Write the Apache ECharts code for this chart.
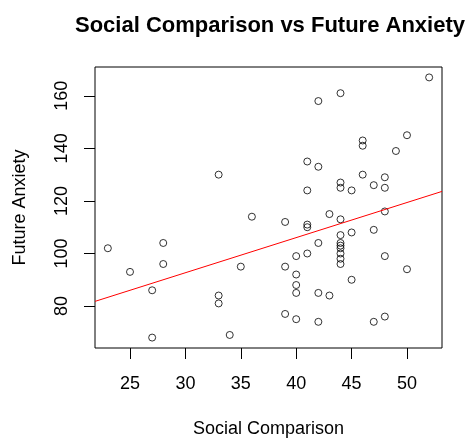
<!DOCTYPE html>
<html>
<head>
<meta charset="utf-8">
<script src="https://cdn.jsdelivr.net/npm/echarts@6/dist/echarts.min.js"></script>
<style>html,body{margin:0;padding:0;background:#fff;}#c{width:468px;height:443px;}</style>
</head>
<body>
<div id="c"></div>
<script>
const socialComparison = [33,52,44,42,46,46,50,49,41,42,46,48,44,44,47,48,41,45,
  23,28,28,25,27,27,36,35,33,33,34,
  48,43,44,39,41,41,44,45,47,42,44,44,44,44,44,44,
  40,41,39,48,40,50,45,40,40,42,43,39,40,42,47,48];
const futureAnxiety = [130,167,161,158,143,141,145,139,135,133,130,129,127,125,126,125,124,124,
  102,104,96,93,86,68,114,95,84,81,69,
  116,115,113,112,111,110,107,108,109,104,104,103,102,100,98,96,
  99,100,95,99,92,94,90,88,85,85,84,77,75,74,74,76];
const xTicks = [25,30,35,40,45,50];
const yTicks = [80,100,120,140,160];
const fitLine = { intercept: 52.6, slope: 1.336 };
const xRange = [21.84, 53.16];
const yRange = [64.04, 170.96];

const points = socialComparison.map((x, i) => [x, futureAnxiety[i]]);
const linePts = xRange.map(x => [x, fitLine.intercept + fitLine.slope * x]);
const FONT = 'Arial, "Liberation Sans", sans-serif';

const chart = echarts.init(document.getElementById('c'), null, {renderer: 'canvas'});
chart.setOption({
  backgroundColor: '#fff',
  animation: false,
  title: {
    text: 'Social Comparison vs Future Anxiety',
    left: 70, top: 10,
    textStyle: {fontFamily: FONT, fontSize: 22, fontWeight: 'bold', color: '#000'}
  },
  grid: {left: 95, right: 26, top: 67, bottom: 89, show: true, borderColor: '#000', borderWidth: 1, backgroundColor: 'transparent'},
  xAxis: {
    type: 'value', min: xRange[0], max: xRange[1],
    name: 'Social Comparison', nameLocation: 'middle', nameGap: 72,
    nameTextStyle: {fontFamily: FONT, fontSize: 18, color: '#000'},
    axisLine: {show: false},
    splitLine: {show: false},
    axisTick: {show: true, length: 11, customValues: xTicks, lineStyle: {color: '#000'}},
    axisLabel: {customValues: xTicks, margin: 27, fontFamily: FONT, fontSize: 18, color: '#000'}
  },
  yAxis: {
    type: 'value', min: yRange[0], max: yRange[1],
    name: 'Future Anxiety', nameLocation: 'middle', nameGap: 66,
    nameTextStyle: {fontFamily: FONT, fontSize: 18, color: '#000'},
    axisLine: {show: false},
    splitLine: {show: false},
    axisTick: {show: true, length: 11, customValues: yTicks, lineStyle: {color: '#000'}},
    axisLabel: {customValues: yTicks, rotate: 90, margin: 24, fontFamily: FONT, fontSize: 18, color: '#000'}
  },
  series: [
    {
      type: 'scatter', data: points, symbol: 'circle', symbolSize: 7,
      itemStyle: {color: 'rgba(0,0,0,0)', borderColor: '#000', borderWidth: 1}
    },
    {
      type: 'line', data: linePts, showSymbol: false, symbol: 'none',
      lineStyle: {color: '#ff0000', width: 1}, z: 3
    }
  ]
});
</script>
</body>
</html>
